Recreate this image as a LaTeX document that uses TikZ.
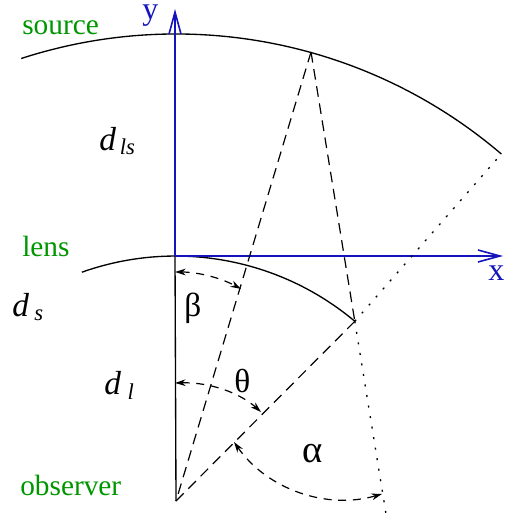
\documentclass[tikz,border=0pt]{standalone}
\usepackage{fontspec}
\setmainfont{Liberation Serif}
\usetikzlibrary{arrows.meta}
\definecolor{lblgreen}{RGB}{0,150,0}
\definecolor{axblue}{RGB}{20,20,190}
\newcommand{\subfnt}{\fontsize{17}{17}\selectfont}
\begin{document}
\begin{tikzpicture}[x=0.75pt,y=-0.75pt,
  curve/.style={black,line width=1pt},
  dashline/.style={black,line width=0.9pt,dash pattern=on 8pt off 5pt},
  dotline/.style={black,line width=1pt,dash pattern=on 1.5pt off 6.5pt},
  axis/.style={axblue,line width=1.2pt,-{Straight Barb[length=16.5pt,width=9pt]}},
  anglearc/.style={black,line width=0.9pt,dash pattern=on 6pt off 5pt,
    {Stealth[length=8pt,width=5pt]}-{Stealth[length=8pt,width=5pt]}},
  glabel/.style={lblgreen,font=\fontsize{22}{22}\selectfont,anchor=base west,inner sep=0pt},
  blabel/.style={axblue,font=\fontsize{24}{24}\selectfont,anchor=base west,inner sep=0pt},
  dlabel/.style={black,font=\itshape\fontsize{25}{25}\selectfont,anchor=base west,inner sep=0pt},
  greek/.style={black,font=\fontsize{25}{25}\selectfont,anchor=base west,inner sep=0pt}
]
\useasboundingbox (0,0) rectangle (504,524);
% key points
\coordinate (O) at (176,501);
\coordinate (L0) at (175,256);
\coordinate (S) at (311,52);
\coordinate (P) at (354.8,321.3);
\coordinate (E) at (501.3,154);
\coordinate (D) at (387,520);
\coordinate (SL) at (21.2,58.5);
\coordinate (LL) at (81.9,272.2);
\coordinate (YT) at (175,9);
\coordinate (XT) at (503,256);
% arcs
\draw[curve] (SL) arc[start angle=-108,end angle=-49.5,radius=501];
\draw[curve] (LL) arc[start angle=-109.6,end angle=-50,radius=279];
% axes
\draw[curve] (L0) -- (O);
\draw[axis] (L0) -- (YT);
\draw[axis] (L0) -- (XT);
% rays
\draw[dashline] (S) -- (O);
\draw[dashline] (S) -- (P);
\draw[dashline] (P) -- (O);
\draw[dotline] (P) -- (E);
\draw[dotline] (P) -- (D);
% angle arcs
\coordinate (b1) at (175,272);
\draw[anglearc] (b1) arc[start angle=-90,end angle=-61.2,radius=137];
\coordinate (t1) at (175,383);
\coordinate (t2) at (261,412);
\draw[anglearc] (t1) .. controls (210,382) and (240,393) .. (t2);
\coordinate (a1) at (234,442);
\draw[anglearc] (a1) arc[start angle=145,end angle=73.6,radius=134.5];
% labels
\node[glabel] (source) at (22,35) {source};
\node[glabel] (lens) at (22,256) {lens};
\node[glabel] (observer) at (20,495) {observer};
\node[blabel,text height=11pt,text depth=5pt] (ylab) at (142,20) {y};
\node[blabel] (xlab) at (488,280) {x};
\node[dlabel] (dls) at (99,151) {d\hspace{3pt}\raisebox{-2.5pt}{\subfnt ls}};
\node[dlabel] (ds) at (12,316) {d\hspace{4pt}\raisebox{-3pt}{\subfnt s}};
\node[dlabel] (dl) at (104,394) {d\hspace{5pt}\raisebox{-4pt}{\subfnt l}};
\node[greek] (beta) at (184,316) {β};
\node[greek] (theta) at (234,392) {θ};
\node[greek,font=\fontsize{29}{29}\selectfont] (alpha) at (302,462) {α};
\end{tikzpicture}
\end{document}
